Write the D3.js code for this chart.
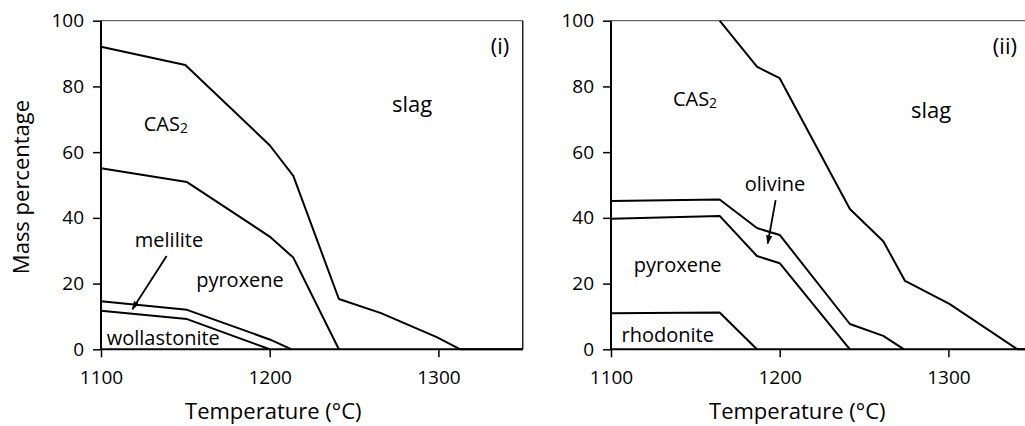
<!DOCTYPE html>
<html><head><meta charset="utf-8">
<script src="https://cdn.jsdelivr.net/npm/d3@7"></script>
<style>body{margin:0;background:#fff}svg{display:block}text{font-family:"Open Sans",sans-serif;fill:#000}</style>
</head><body><svg id="c" width="1025" height="426"></svg>
<script>
const xTicks = [1100, 1200, 1300];
const yTicks = [0, 20, 40, 60, 80, 100];
const xDomain = [1100, 1350];
const yDomain = [0, 100];

// Panel (i) phase boundaries [temperature, mass %]
const i_slag = [[1100,92.1],[1150,86.5],[1200,62.1],[1214,52.8],[1241,15.3],[1266,11],[1299,3.7],[1313,0],[1350,0]];
const i_cas2 = [[1100,55.1],[1151,50.9],[1200,34.3],[1214,27.9],[1241,0]];
const i_melilite = [[1100,14.6],[1151,12],[1200,3],[1213,0]];
const i_wollastonite = [[1100,11.7],[1151,9.2],[1200,0]];

// Panel (ii) phase boundaries
const ii_slag = [[1164.4,100],[1186.5,86],[1200,82.5],[1241.6,42.7],[1261.4,32.9],[1274.3,20.8],[1300.6,13.8],[1341,0],[1350,0]];
const ii_cas2 = [[1100,45.1],[1164.4,45.6],[1186.5,36.9],[1200,34.8],[1241.6,7.7],[1261.4,4.1],[1273.7,0]];
const ii_olivine = [[1100,39.7],[1164.4,40.6],[1186.5,28.4],[1200,26.2],[1241.6,0]];
const ii_rhodonite = [[1100,11],[1164.4,11.2],[1186.5,0]];

// Region labels [text, temperature, mass %, anchor]
const i_labels = [["CAS2",1138.4,66.4,"middle"],["slag",1284.4,72.1,"middle"],["(i)",1336.5,89.8,"middle"],["melilite",1140.3,31.2,"middle"],["pyroxene",1182.4,18.9,"middle"],["wollastonite",1103.4,1.3,"start"]];
const ii_labels = [["CAS2",1149.8,74,"middle"],["slag",1289.7,70.5,"middle"],["(ii)",1333.5,89.8,"middle"],["olivine",1197.2,48.2,"middle"],["pyroxene",1139.5,23.6,"middle"],["rhodonite",1133.6,2.3,"middle"]];
const i_arrows = [[[1138.9,28.4],[1118.6,12.2]]];
const ii_arrows = [[[1197.6,45.4],[1192.9,32.2]]];

const svg = d3.select("#c");
svg.append("defs").append("marker").attr("id","ah").attr("viewBox","0 0 10 10")
  .attr("refX",9).attr("refY",5).attr("markerWidth",5).attr("markerHeight",5)
  .attr("orient","auto").attr("markerUnits","strokeWidth")
  .append("path").attr("d","M0,1.5 L10,5 L0,8.5 Z").attr("fill","#000");

const plotTop = 20.7, plotBottom = 349.3, pxPer100 = 168.7;

function panel(x0, lines, labels, arrows, titleX, showYTitle) {
  const x = d3.scaleLinear().domain(xDomain).range([x0, x0 + pxPer100 * 2.5]);
  const y = d3.scaleLinear().domain(yDomain).range([plotBottom, plotTop]);
  const g = svg.append("g");
  g.append("line").attr("x1",x0).attr("x2",x(1350)).attr("y1",y(100)).attr("y2",y(100)).attr("stroke","#666").attr("stroke-width",1.3);
  g.append("line").attr("x1",x(1350)).attr("x2",x(1350)).attr("y1",y(100)).attr("y2",y(0)).attr("stroke","#000").attr("stroke-width",1.3);
  const line = d3.line().x(d => x(d[0])).y(d => y(d[1]));
  lines.forEach(l => g.append("path").attr("d", line(l)).attr("fill","none").attr("stroke","#000").attr("stroke-width",2).attr("stroke-linejoin","round"));
  const xa = g.append("g").attr("transform",`translate(0,${plotBottom})`)
    .call(d3.axisBottom(x).tickValues(xTicks).tickSize(8).tickPadding(13).tickFormat(d3.format("d")));
  const ya = g.append("g").attr("transform",`translate(${x0},0)`)
    .call(d3.axisLeft(y).tickValues(yTicks).tickSize(8).tickPadding(9));
  [xa, ya].forEach(a => {
    a.select(".domain").attr("stroke","#000").attr("stroke-width",2);
    a.selectAll(".tick line").attr("stroke","#000").attr("stroke-width",1.5);
    a.selectAll("text").style("font-size","19px").style("font-family",'"Open Sans",sans-serif').attr("fill","#000");
  });
  xa.select(".domain").attr("d", `M${x0},0H${x(1350)}`);
  ya.select(".domain").attr("d", `M0,${plotBottom}V${plotTop}`);
  labels.forEach(([t, tx, ty, anc]) => {
    const txt = g.append("text").attr("x", x(tx)).attr("y", y(ty)).attr("text-anchor", anc)
      .style("font-size", (t === "slag" || t.startsWith("(")) ? "22px" : "20px");
    if (t === "CAS2") {
      txt.append("tspan").text("CAS");
      txt.append("tspan").text("2").style("font-size","14px").attr("dy",2);
    } else txt.text(t);
  });
  arrows.forEach(([a, b]) => g.append("line").attr("x1",x(a[0])).attr("y1",y(a[1])).attr("x2",x(b[0])).attr("y2",y(b[1]))
    .attr("stroke","#000").attr("stroke-width",1.8).attr("marker-end","url(#ah)"));
  g.append("text").attr("x", titleX).attr("y", 419).attr("text-anchor","middle").style("font-size","22px").text("Temperature (°C)");
  if (showYTitle) g.append("text").attr("transform","translate(29,187) rotate(-90)").attr("text-anchor","middle").style("font-size","22px").text("Mass percentage");
}

panel(101, [i_slag, i_cas2, i_melilite, i_wollastonite], i_labels, i_arrows, 273.3, true);
panel(611, [ii_slag, ii_cas2, ii_olivine, ii_rhodonite], ii_labels, ii_arrows, 797.3, false);
</script></body></html>
